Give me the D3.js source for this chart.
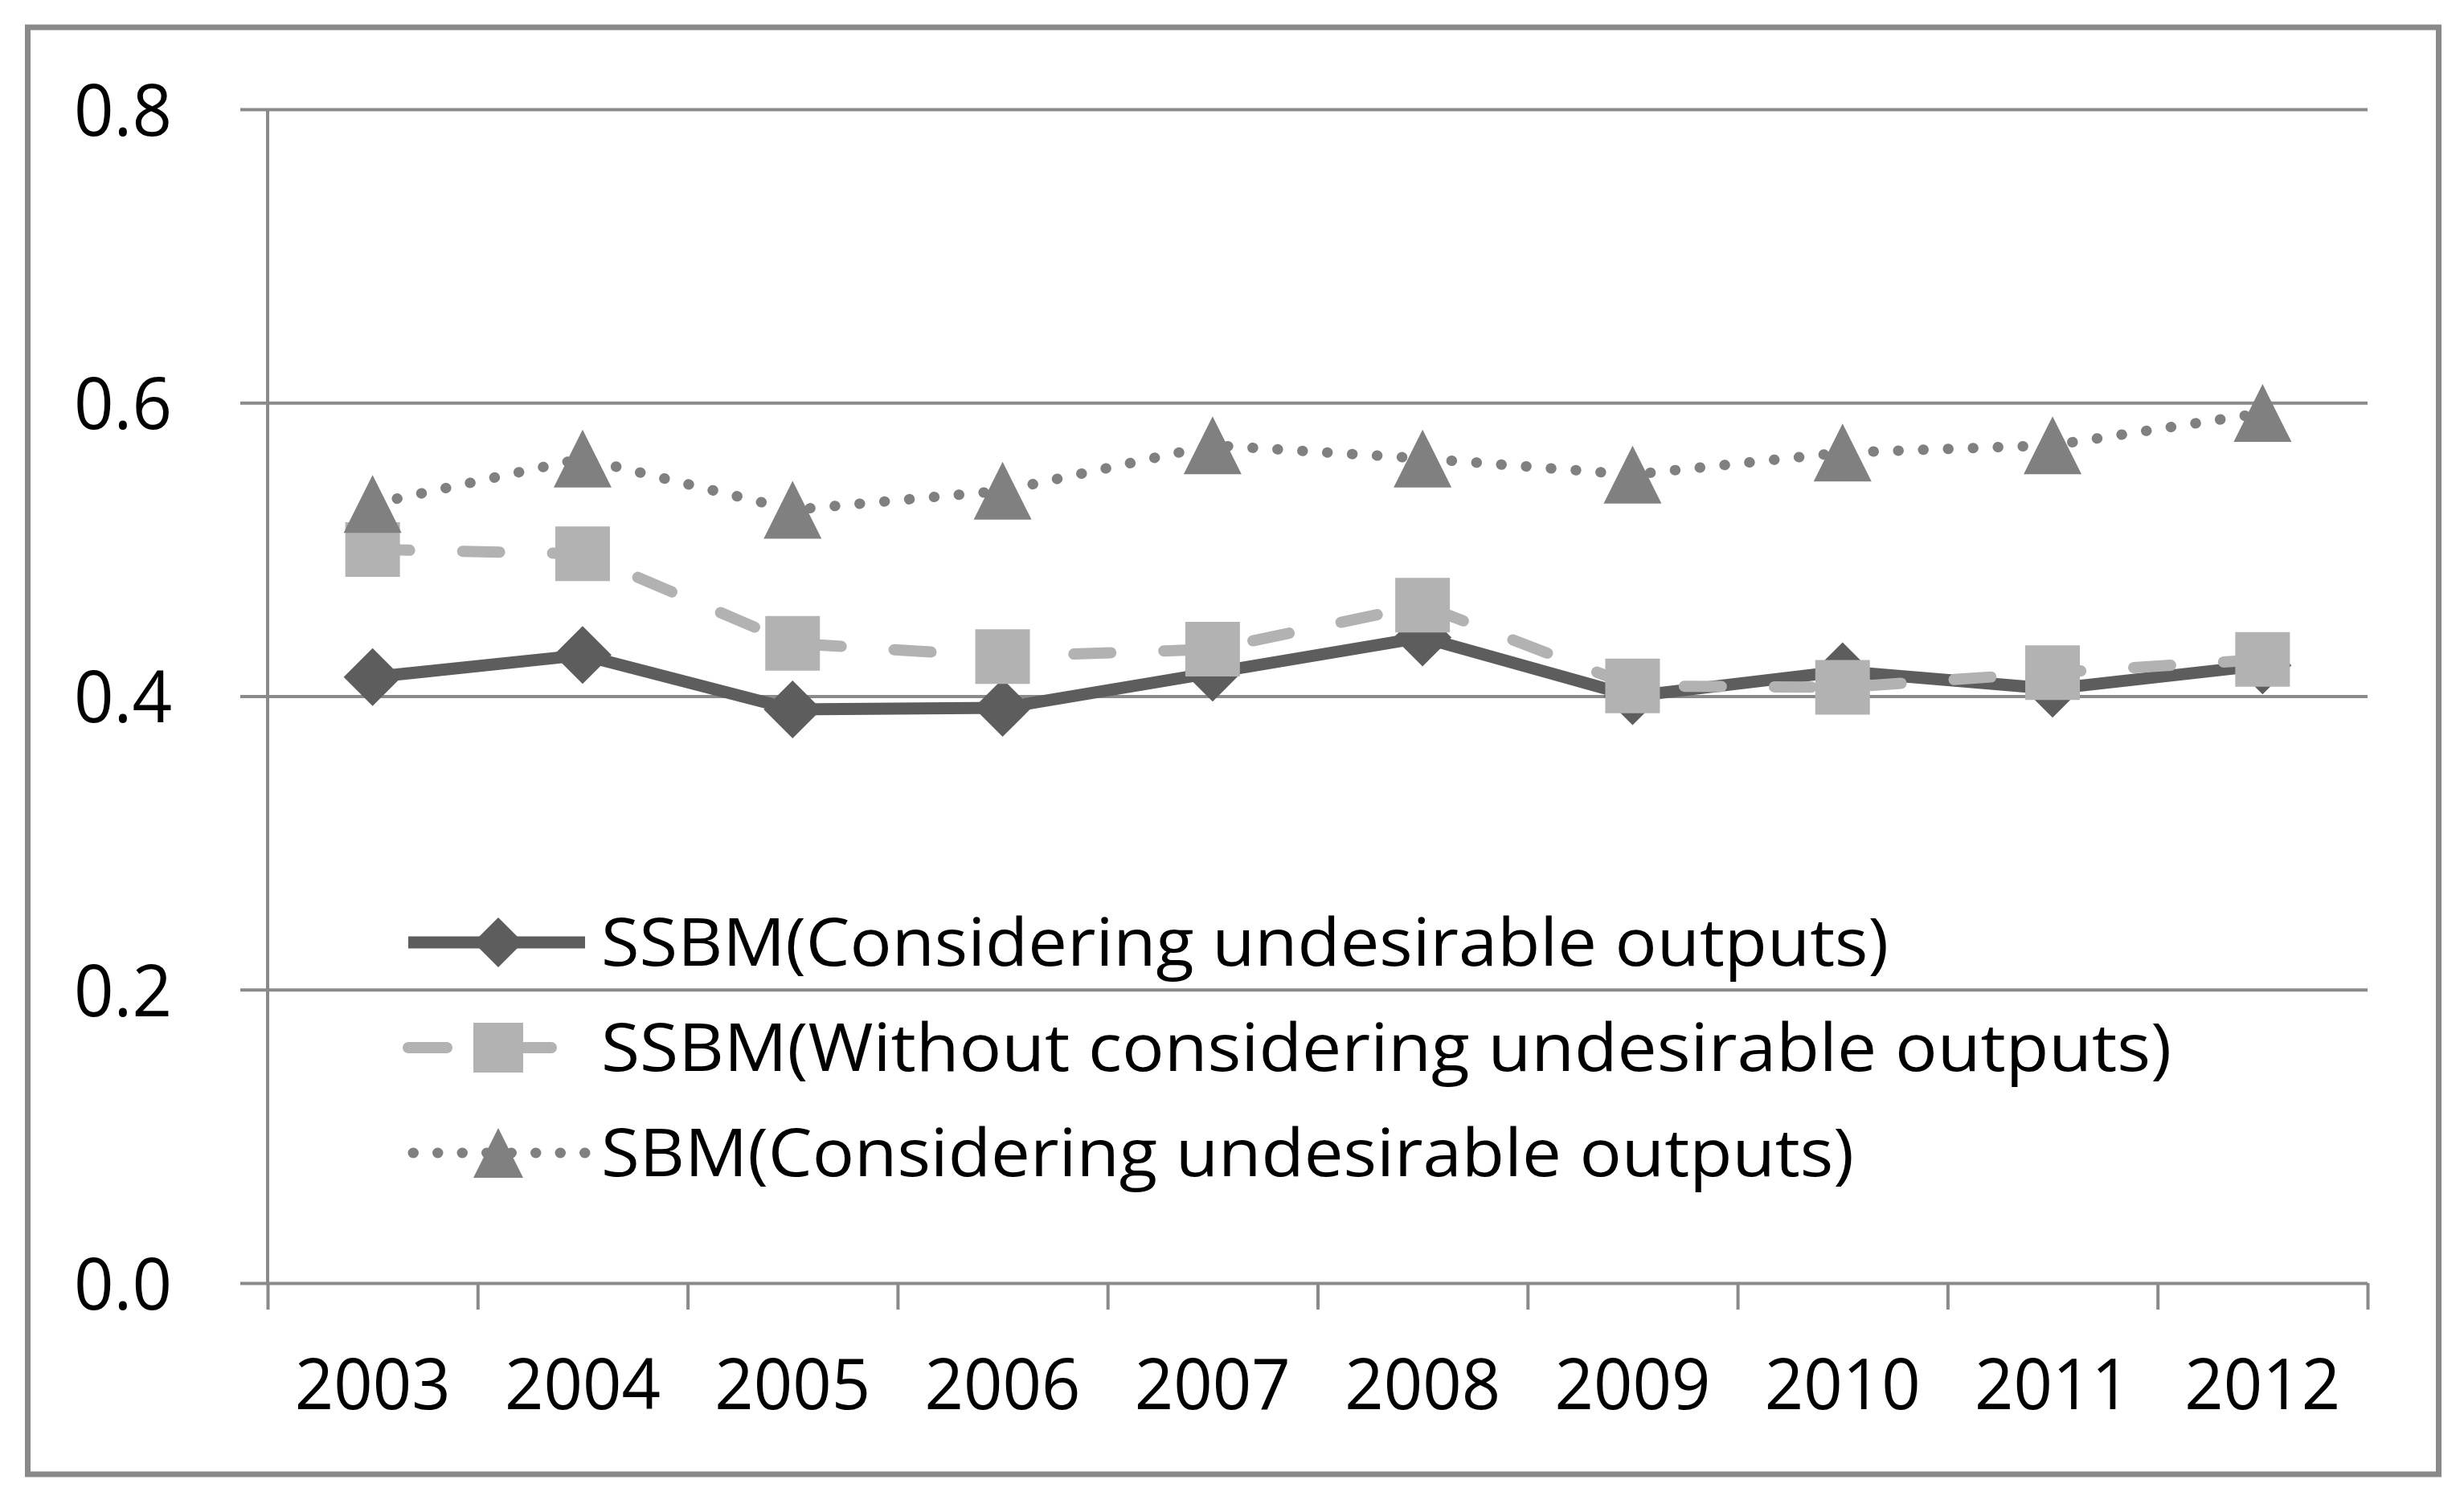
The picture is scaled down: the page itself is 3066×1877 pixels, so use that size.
<!DOCTYPE html>
<html>
<head>
<meta charset="utf-8">
<script src="https://cdn.jsdelivr.net/npm/d3@7"></script>
<style>
  html, body { margin: 0; padding: 0; background: #fff; }
  svg { display: block; }
  text { font-family: "Open Sans", "Noto Sans", sans-serif; fill: #000; }
</style>
</head>
<body>
<svg id="chart" width="3066" height="1877"></svg>
<script>
// ---- data ----
const years = ["2003","2004","2005","2006","2007","2008","2009","2010","2011","2012"];
const ssbmUndesirable = [0.413, 0.428, 0.391, 0.392, 0.416, 0.440, 0.400, 0.417, 0.405, 0.421];
const ssbmWithout     = [0.500, 0.497, 0.436, 0.427, 0.432, 0.462, 0.407, 0.406, 0.416, 0.425];
const sbmUndesirable  = [0.531, 0.562, 0.527, 0.540, 0.571, 0.562, 0.551, 0.566, 0.571, 0.593];
const yTicks = [0, 0.2, 0.4, 0.6, 0.8];
const seriesNames = [
  "SSBM(Considering undesirable outputs)",
  "SSBM(Without considering undesirable outputs)",
  "SBM(Considering undesirable outputs)"
];

// ---- layout ----
const plotL = 333, plotR = 2946, plotT = 136, plotB = 1597;
const gridColor = "#8a8a8a";

const svg = d3.select("#chart");

// frame
svg.append("rect")
  .attr("x", 34.5).attr("y", 34).attr("width", 3000).attr("height", 1801)
  .attr("fill", "#fff").attr("stroke", "#898989").attr("stroke-width", 7);

const x = d3.scaleBand().domain(years).range([plotL, plotR]);
const xEdge = d3.scaleLinear().domain([0, years.length]).range([plotL, plotR]);
const y = d3.scaleLinear().domain([0, 0.8]).range([plotB, plotT]);

// gridlines (extend left as ticks)
const grid = svg.append("g").attr("transform", `translate(${plotR},0)`)
  .call(d3.axisLeft(y).tickValues(yTicks).tickSize(plotR - 299).tickFormat(""));
grid.select(".domain").remove();
grid.selectAll(".tick line").attr("stroke", gridColor).attr("stroke-width", 4);

// y axis line + labels
const yAxis = svg.append("g").attr("transform", `translate(${plotL},0)`)
  .call(d3.axisLeft(y).tickValues(yTicks).tickSize(0).tickPadding(119).tickFormat(d3.format(".1f")));
yAxis.select(".domain").attr("stroke", gridColor).attr("stroke-width", 4)
  .attr("d", `M0,${plotT}V${plotB}`);
yAxis.selectAll(".tick text")
  .attr("font-size", 90).attr("dy", "0.36em")
  .attr("textLength", 122).attr("lengthAdjust", "spacingAndGlyphs")
  .style("font-family", '"Open Sans", sans-serif').attr("fill", "#000");

// x ticks at category edges
const xTicks = svg.append("g").attr("transform", `translate(0,${plotB})`)
  .call(d3.axisBottom(xEdge).tickValues(d3.range(0, years.length + 1)).tickSize(33).tickFormat(""));
xTicks.select(".domain").remove();
xTicks.selectAll(".tick line").attr("stroke", gridColor).attr("stroke-width", 4);

// x labels
const xAxis = svg.append("g").attr("transform", `translate(0,${plotB})`)
  .call(d3.axisBottom(x).tickSize(0).tickPadding(95));
xAxis.select(".domain").remove();
xAxis.selectAll(".tick text")
  .attr("font-size", 88).attr("dy", "0.71em")
  .attr("textLength", 194).attr("lengthAdjust", "spacingAndGlyphs")
  .style("font-family", '"Open Sans", sans-serif').attr("fill", "#000");

// ---- marker shapes ----
function diamond(s) { const h = s / 2; return `M0,${-h}L${h},0L0,${h}L${-h},0Z`; }
function square(s) { const h = s / 2; return `M${-h},${-h}H${h}V${h}H${-h}Z`; }
function triangle(s) { const h = s / 2; return `M0,${-h}L${h},${h}L${-h},${h}Z`; }

const series = [
  { name: seriesNames[0], values: ssbmUndesirable, color: "#5d5d5d", width: 15, dash: null, cap: "butt", shape: diamond, size: 72 },
  { name: seriesNames[1], values: ssbmWithout, color: "#b2b2b2", width: 14, dash: "46,66", cap: "round", shape: square, size: 68 },
  { name: seriesNames[2], values: sbmUndesirable, color: "#808080", width: 13, dash: "0.5,30.5", cap: "round", shape: triangle, size: 72 }
];

const cx = (i) => x(years[i]) + x.bandwidth() / 2;
const line = d3.line().x((d, i) => cx(i)).y(d => y(d));

series.forEach(s => {
  const g = svg.append("g");
  g.append("path").datum(s.values)
    .attr("d", line).attr("fill", "none")
    .attr("stroke", s.color).attr("stroke-width", s.width)
    .attr("stroke-linejoin", "round").attr("stroke-linecap", s.cap)
    .attr("stroke-dasharray", s.dash);
  g.selectAll("path.mk").data(s.values).join("path").attr("class", "mk")
    .attr("transform", (d, i) => `translate(${cx(i)},${y(d)})`)
    .attr("d", s.shape(s.size)).attr("fill", s.color);
});

// ---- legend ----
const legendBase = [1202, 1333, 1464];
const legendWidths = [1602, 1954, 1559];
series.forEach((s, k) => {
  const ly = legendBase[k] - 29;
  const g = svg.append("g");
  g.append("path").attr("d", `M508,${ly}H${k === 1 ? 690 : 728}`)
    .attr("fill", "none").attr("stroke", s.color).attr("stroke-width", s.width)
    .attr("stroke-linecap", s.cap)
    .attr("stroke-dasharray", k === 1 ? "48,82" : (k === 2 ? "0.5,30" : null))
    .attr("stroke-dashoffset", k === 2 ? -6 : 0);
  g.append("path").attr("transform", `translate(620,${ly})`)
    .attr("d", s.shape(62)).attr("fill", s.color);
  g.append("text").attr("x", 748).attr("y", legendBase[k])
    .attr("font-size", 83)
    .attr("textLength", legendWidths[k]).attr("lengthAdjust", "spacingAndGlyphs")
    .text(s.name);
});
</script>
</body>
</html>
